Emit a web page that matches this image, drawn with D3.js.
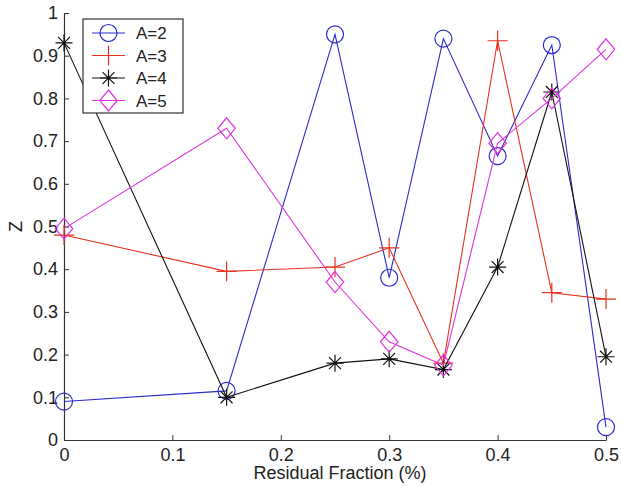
<!DOCTYPE html>
<html><head><meta charset="utf-8">
<script src="https://cdn.jsdelivr.net/npm/d3@7/dist/d3.min.js"></script>
<style>body{margin:0;background:#fff;}svg{display:block;font-family:"Liberation Sans",Arial,sans-serif;}</style>
</head><body><svg id="c" width="621" height="487"></svg>
<script>
const xValues = [0, 0.15, 0.25, 0.3, 0.35, 0.4, 0.45, 0.5];
const seriesNames = ["A=2", "A=3", "A=4", "A=5"];
const a2 = [0.09, 0.115, 0.95, 0.38, 0.94, 0.665, 0.925, 0.03];
const a3 = [0.48, 0.395, 0.405, 0.45, 0.18, 0.935, 0.345, 0.33];
const a4 = [0.93, 0.10, 0.18, 0.19, 0.165, 0.405, 0.815, 0.195];
const a5 = [0.495, 0.73, 0.37, 0.23, 0.175, 0.695, 0.80, 0.915];
const xTicks = [0, 0.1, 0.2, 0.3, 0.4, 0.5];
const yTicks = [0, 0.1, 0.2, 0.3, 0.4, 0.5, 0.6, 0.7, 0.8, 0.9, 1];
const xLabel = "Residual Fraction (%)";
const yLabel = "Z";

const series = [
  {name: seriesNames[0], values: a2, color: "#2a2acc", marker: "circle"},
  {name: seriesNames[1], values: a3, color: "#e8321e", marker: "plus"},
  {name: seriesNames[2], values: a4, color: "#111111", marker: "star"},
  {name: seriesNames[3], values: a5, color: "#dd33dd", marker: "diamond"}
];

const svg = d3.select("#c");
const L = 64, R = 606, T = 13, B = 440;
const x = d3.scaleLinear().domain([0, 0.5]).range([L, R]);
const y = d3.scaleLinear().domain([0, 1]).range([B, T]);

const fmt = d => d === 0 ? "0" : d === 1 ? "1" : String(d);
const xAxis = svg.append("g").attr("transform", `translate(0,${B})`)
  .call(d3.axisBottom(x).tickValues(xTicks).tickFormat(fmt).tickSizeInner(-5).tickSizeOuter(0).tickPadding(8));
const yAxis = svg.append("g").attr("transform", `translate(${L},0)`)
  .call(d3.axisLeft(y).tickValues(yTicks).tickFormat(fmt).tickSizeInner(-5).tickSizeOuter(0).tickPadding(6));
[xAxis, yAxis].forEach(g => {
  g.select(".domain").attr("stroke", "#333").attr("stroke-width", 1.2);
  g.selectAll(".tick line").attr("stroke", "#333");
  g.selectAll("text").attr("font-size", 18).attr("fill", "#222").attr("font-family", "Liberation Sans, Arial, sans-serif");
});

svg.append("text").attr("x", 340).attr("y", 479).attr("text-anchor", "middle")
  .attr("font-size", 18).attr("fill", "#222").text(xLabel);
svg.append("text").attr("transform", `translate(22,${(T + B) / 2}) rotate(-90)`).attr("text-anchor", "middle")
  .attr("font-size", 18).attr("fill", "#222").text(yLabel);

function drawMarker(g, type, cx, cy, color) {
  if (type === "circle") {
    g.append("circle").attr("cx", cx).attr("cy", cy).attr("r", 8.5).attr("fill", "none").attr("stroke", color).attr("stroke-width", 1.2);
  } else if (type === "plus") {
    const s = 10;
    g.append("path").attr("d", `M${cx - s},${cy}H${cx + s}M${cx},${cy - s}V${cy + s}`).attr("stroke", color).attr("stroke-width", 1.2).attr("fill", "none");
  } else if (type === "star") {
    const s = 8.5, d = s * 0.7;
    g.append("path").attr("d", `M${cx - s},${cy}H${cx + s}M${cx},${cy - s}V${cy + s}M${cx - d},${cy - d}L${cx + d},${cy + d}M${cx - d},${cy + d}L${cx + d},${cy - d}`)
      .attr("stroke", color).attr("stroke-width", 1.2).attr("fill", "none");
  } else if (type === "diamond") {
    const s = 10.5;
    g.append("path").attr("d", `M${cx},${cy - s}L${cx + s * 0.83},${cy}L${cx},${cy + s}L${cx - s * 0.83},${cy}Z`).attr("stroke", color).attr("stroke-width", 1.2).attr("fill", "none");
  }
}

const line = d3.line().x((d, i) => x(xValues[i])).y(d => y(d));
series.forEach(s => {
  const g = svg.append("g");
  g.append("path").datum(s.values).attr("d", line).attr("fill", "none").attr("stroke", s.color).attr("stroke-width", 1.1);
  s.values.forEach((v, i) => drawMarker(g, s.marker, x(xValues[i]), y(v), s.color));
});

// legend
const lg = svg.append("g");
const lx = 83, ly = 19, lw = 100, lh = 94;
lg.append("rect").attr("x", lx).attr("y", ly).attr("width", lw).attr("height", lh).attr("fill", "#fff").attr("stroke", "#333").attr("stroke-width", 1.2);
series.forEach((s, i) => {
  const yy = ly + 14 + i * 22.5;
  lg.append("line").attr("x1", lx + 9).attr("x2", lx + 42).attr("y1", yy).attr("y2", yy).attr("stroke", s.color).attr("stroke-width", 1.1);
  drawMarker(lg, s.marker, lx + 25.5, yy, s.color);
  lg.append("text").attr("x", lx + 53).attr("y", yy + 6).attr("font-size", 17).attr("fill", "#222").text(s.name);
});
</script></body></html>
